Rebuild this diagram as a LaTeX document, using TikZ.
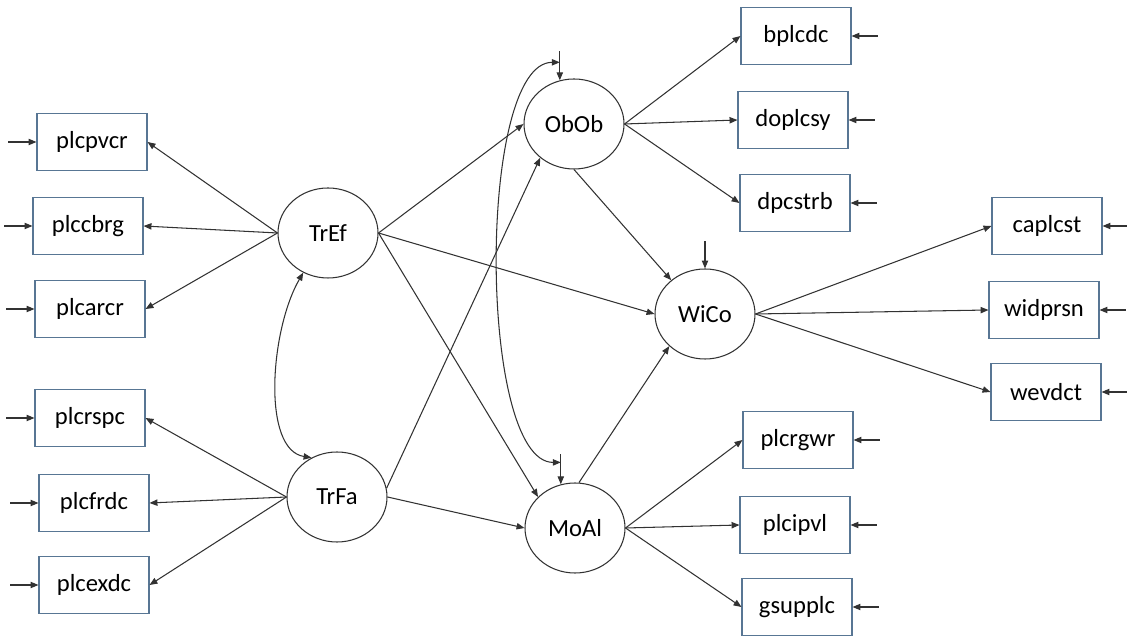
\documentclass[tikz,border=0pt]{standalone}
\usepackage{fontspec}
\setmainfont{Carlito}
\usepackage{tikz}
\usetikzlibrary{positioning,arrows.meta,shapes.geometric}
\usepackage{xcolor}
\definecolor{boxline}{RGB}{88,118,148}
\definecolor{edge}{RGB}{50,50,50}

\tikzset{
  lbl/.style={font=\fontsize{14}{16}\selectfont},
  obs/.style={lbl, draw=boxline, line width=0.6pt, minimum width=2.2cm, minimum height=1.14cm},
  lat/.style={lbl, ellipse, draw=edge, line width=0.6pt, minimum width=2cm, minimum height=1.8cm, inner sep=0pt},
  arr/.style={draw=edge, line width=0.6pt, -{Triangle[length=4.5pt,width=3.6pt]}},
  err/.style={draw=edge, line width=0.6pt, {Triangle[length=4.5pt,width=3.6pt]}-},
  cov/.style={draw=edge, line width=0.6pt, {Triangle[length=4.5pt,width=3.6pt]}-{Triangle[length=4.5pt,width=3.6pt]}},
}

\begin{document}
\begin{tikzpicture}
    \useasboundingbox (0,0) rectangle (22.54,12.76);
    % latent factors
    \node[lat] (tref) at (6.56,8.10) {TrEf};
    \node[lat] (trfa) at (6.74,2.82) {TrFa};
    \node[lat] (obob) at (11.48,10.28) {ObOb};
    \node[lat] (moal) at (11.50,2.20) {MoAl};
    \node[lat] (wico) at (14.10,6.48) {WiCo};
    % indicators
    \foreach \name/\x/\y in {plcpvcr/1.84/9.92, plccbrg/1.76/8.24, plcarcr/1.80/6.58,
                             plcrspc/1.80/4.40, plcfrdc/1.88/2.70, plcexdc/1.88/1.06,
                             bplcdc/15.92/12.04, doplcsy/15.86/10.36, dpcstrb/15.90/8.70,
                             plcrgwr/15.96/3.96, plcipvl/15.90/2.26, gsupplc/15.94/0.62,
                             caplcst/20.94/8.24, widprsn/20.88/6.56, wevdct/20.92/4.92} {
      \node[obs] (\name) at (\x,\y) {\name};
    }
    % loadings
    \foreach \name in {plcpvcr,plccbrg,plcarcr} \draw[arr] (tref.west) -- (\name.east);
    \foreach \name in {plcrspc,plcfrdc,plcexdc} \draw[arr] (trfa.west) -- (\name.east);
    \foreach \name in {bplcdc,doplcsy,dpcstrb} \draw[arr] (obob.east) -- (\name.west);
    \foreach \name in {plcrgwr,plcipvl,gsupplc} \draw[arr] (moal.east) -- (\name.west);
    \foreach \name in {caplcst,widprsn,wevdct} \draw[arr] (wico.east) -- (\name.west);
    % structural paths
    \draw[arr] (tref.east) -- (obob.west);
    \draw[arr] (tref.east) -- (wico.west);
    \draw[arr] (tref.east) -- (moal.140);
    \draw[arr] (trfa.10) -- (obob.225);
    \draw[arr] (trfa.east) -- (moal.west);
    \draw[arr] (obob.south) -- (wico.135);
    \draw[arr] (moal.85) -- (wico.222);
    % error terms
    \foreach \name in {plcpvcr,plccbrg,plcarcr,plcrspc,plcfrdc,plcexdc}
      \draw[err] (\name.west) -- ++(-0.56,0);
    \foreach \name in {bplcdc,doplcsy,dpcstrb,plcrgwr,plcipvl,gsupplc,caplcst,widprsn,wevdct}
      \draw[err] (\name.east) -- ++(0.52,0);
    \draw[err] (obob.108) -- coordinate[pos=0.62] (obobd) ++(0,0.58);
    \draw[err] (moal.108) -- coordinate[pos=0.73] (moald) ++(0,0.6);
    \draw[err] (wico.north) -- ++(0,0.55);
    % covariances
    \draw[cov] (tref.238) .. controls +(-0.66,-1.14) and +(-1.0,0.16) .. (trfa.123);
    \draw[cov] (obobd) .. controls +(-1.66,0) and +(-1.66,0) .. (moald);
\end{tikzpicture}
\end{document}
